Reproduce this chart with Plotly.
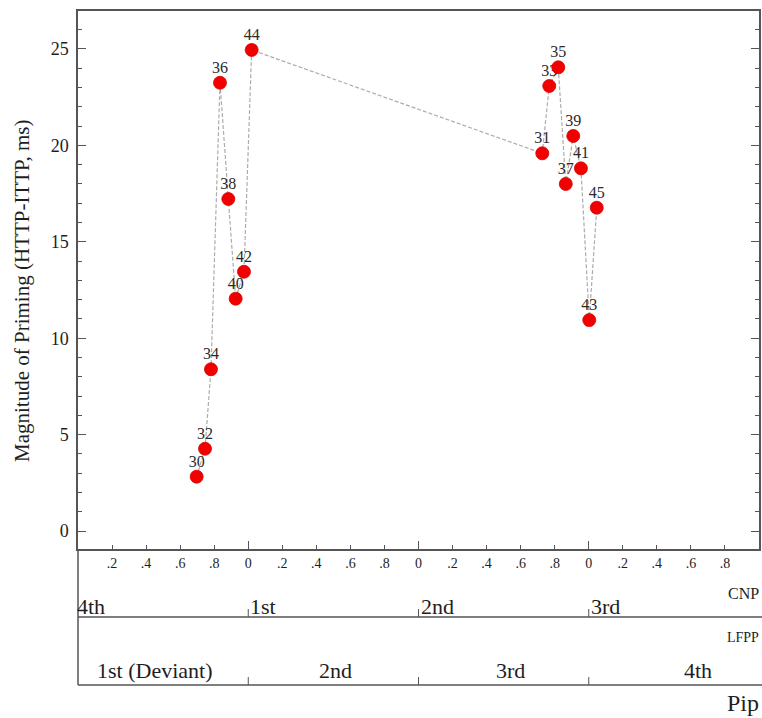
import plotly.graph_objects as go

# Stimulus numbers, in the order the connecting line visits them
point_ids = [30, 32, 34, 36, 38, 40, 42, 44, 31, 33, 35, 37, 39, 41, 43, 45]
# Position on the CNP cycle axis (cycle index + phase)
cnp_phase = [0.697, 0.746, 0.781, 0.834, 0.883, 0.926, 0.975, 1.020,
             2.727, 2.768, 2.821, 2.865, 2.909, 2.954, 3.003, 3.047]
# Magnitude of priming (HTTP-ITTP, ms)
priming_ms = [2.82, 4.27, 8.39, 23.25, 17.22, 12.05, 13.45, 24.95,
              19.59, 23.08, 24.05, 18.00, 20.49, 18.81, 10.94, 16.77]

# CNP phase tick labels
cnp_tick_vals = [round(0.2 * k, 1) for k in range(1, 20)]
cnp_tick_text = ["0" if abs(v - round(v)) < 1e-9 else "." + str(int(round((v % 1) * 10)))
                 for v in cnp_tick_vals]

# LFPP cycle labels (start of each cycle) and Pip labels (within each cycle)
lfpp_labels = ["4th", "1st", "2nd", "3rd"]
pip_labels = ["1st (Deviant)", "2nd", "3rd", "4th"]

W, H = 762, 718
X_LEFT, X_RIGHT = 78, 759
Y_TOP, Y_BOTTOM = 11, 549


def py(px):
    """Pixel row -> paper y."""
    return (H - px) / H


def pxx(px):
    """Pixel column -> paper x."""
    return px / W


SERIF = "Liberation Serif, Times New Roman, serif"
AXIS_COLOR = "#555555"
TEXT_COLOR = "#1e1e1e"

fig = go.Figure()

# connecting dashed line
fig.add_trace(go.Scatter(
    x=cnp_phase, y=priming_ms, mode="lines",
    line=dict(color="#acacac", width=1.2, dash="4px,2px"),
    hoverinfo="skip", showlegend=False,
))

# point labels (drawn beneath the markers)
fig.add_trace(go.Scatter(
    x=cnp_phase, y=priming_ms, mode="markers+text",
    text=[str(i) for i in point_ids], textposition="top center",
    textfont=dict(family=SERIF, size=16, color="#2a2a2a"),
    marker=dict(size=8, color="rgba(0,0,0,0)"),
    hoverinfo="skip", showlegend=False,
))

# red markers
fig.add_trace(go.Scatter(
    x=cnp_phase, y=priming_ms, mode="markers",
    marker=dict(size=13, color="#f20000", line=dict(color="#d40000", width=0.8)),
    showlegend=False,
))

fig.update_layout(
    width=W, height=H,
    margin=dict(l=0, r=0, t=0, b=0),
    paper_bgcolor="white", plot_bgcolor="white",
    font=dict(family=SERIF, color=TEXT_COLOR),
    xaxis=dict(
        domain=[pxx(X_LEFT), pxx(X_RIGHT)],
        range=[0, 4],
        showgrid=False, zeroline=False,
        showline=True, linecolor=AXIS_COLOR, linewidth=1.5, mirror=True,
        tickmode="array", tickvals=cnp_tick_vals, ticktext=cnp_tick_text,
        ticks="inside", ticklen=4, tickwidth=1, tickcolor=AXIS_COLOR,
        tickfont=dict(family=SERIF, size=14, color=TEXT_COLOR),
        ticklabelstandoff=0,
        minor=dict(tickmode="array", tickvals=[1, 2, 3], ticks="inside",
                   ticklen=8, tickwidth=1, tickcolor=AXIS_COLOR, showgrid=False),
    ),
    yaxis=dict(
        domain=[py(Y_BOTTOM), py(Y_TOP)],
        range=[-0.93, 26.97],
        showgrid=False, zeroline=False,
        showline=True, linecolor=AXIS_COLOR, linewidth=1.5, mirror="ticks",
        tickmode="array", tickvals=[0, 5, 10, 15, 20, 25],
        ticks="inside", ticklen=8, tickwidth=1, tickcolor=AXIS_COLOR,
        tickfont=dict(family=SERIF, size=18, color=TEXT_COLOR),
        ticklabelstandoff=4,
        minor=dict(dtick=1, ticks="inside", ticklen=4, tickwidth=1,
                   tickcolor=AXIS_COLOR, showgrid=False),
    ),
)

shapes = []
line_style = dict(color=AXIS_COLOR, width=1.5)
# lower band frame: left side and two horizontal rules
shapes.append(dict(type="line", xref="paper", yref="paper",
                   x0=pxx(X_LEFT), x1=pxx(X_LEFT), y0=py(Y_BOTTOM), y1=py(685), line=line_style))
for row_y in (617, 685):
    shapes.append(dict(type="line", xref="paper", yref="paper",
                       x0=pxx(X_LEFT), x1=1.0, y0=py(row_y), y1=py(row_y), line=line_style))
    for k in (1, 2, 3):
        shapes.append(dict(type="line", xref="x", yref="paper",
                           x0=k, x1=k, y0=py(row_y), y1=py(row_y - 8),
                           line=dict(color=AXIS_COLOR, width=1)))
fig.update_layout(shapes=shapes)

annotations = []
# y-axis title
annotations.append(dict(
    text="Magnitude of Priming (HTTP-ITTP, ms)", textangle=-90,
    xref="paper", yref="paper", x=pxx(22), y=py(291),
    xanchor="center", yanchor="middle", showarrow=False,
    font=dict(family=SERIF, size=21, color=TEXT_COLOR),
))
# LFPP cycle labels, starting at each cycle boundary
for k, lab in enumerate(lfpp_labels):
    annotations.append(dict(
        text=lab, xref="x", yref="paper", x=k, y=py(606),
        xanchor="left", yanchor="middle", showarrow=False,
        xshift=-3 if k == 0 else 0,
        font=dict(family=SERIF, size=22, color=TEXT_COLOR),
    ))
# Pip labels inside each cycle
pip_label_x = [0.45, 1.51, 2.54, 3.64]
for xpos, lab in zip(pip_label_x, pip_labels):
    annotations.append(dict(
        text=lab, xref="x", yref="paper", x=xpos, y=py(670),
        xanchor="center", yanchor="middle", showarrow=False,
        font=dict(family=SERIF, size=22, color=TEXT_COLOR),
    ))
# row names on the right
for name, row_y, size in (("CNP", 593, 16), ("LFPP", 637, 14), ("Pip", 703, 24)):
    annotations.append(dict(
        text=name, xref="paper", yref="paper", x=pxx(761), y=py(row_y),
        xanchor="right", yanchor="middle", showarrow=False,
        font=dict(family=SERIF, size=size, color=TEXT_COLOR),
    ))
fig.update_layout(annotations=annotations)

fig.write_html("out.html")
